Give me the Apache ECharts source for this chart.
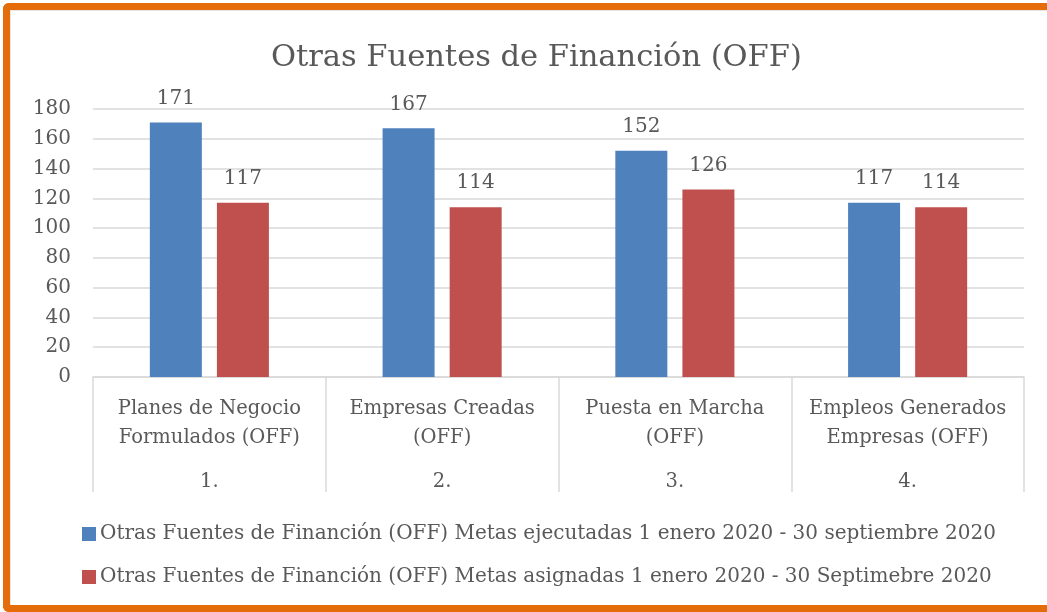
<!DOCTYPE html>
<html>
<head>
<meta charset="utf-8">
<script src="https://cdn.jsdelivr.net/npm/echarts@6/dist/echarts.min.js"></script>
<style>
  html, body { margin: 0; padding: 0; background: #fff; overflow: hidden; }
  #frame {
    position: absolute; left: 3px; top: 3px; width: 1060px; height: 595px;
    border: 7px solid #E46C0A; border-right: none; border-radius: 6px 0 0 6px;
    box-shadow: inset 1px 1px 0 #e6e6e6;
  }
  #chart { position: absolute; left: 0; top: 0; width: 1047px; height: 612px; }
</style>
</head>
<body>
<div id="frame"></div>
<div id="chart"></div>
<script>
(function() {
  var categories = [
    'Planes de Negocio\nFormulados (OFF)',
    'Empresas Creadas\n(OFF)',
    'Puesta en Marcha\n(OFF)',
    'Empleos Generados\nEmpresas (OFF)'
  ];
  var groupLabels = ['1.', '2.', '3.', '4.'];
  var ejecutadas = [171, 167, 152, 117];
  var asignadas = [117, 114, 126, 114];
  var seriesNames = [
    'Otras Fuentes de Financión (OFF) Metas ejecutadas 1 enero 2020 - 30 septiembre 2020',
    'Otras Fuentes de Financión (OFF) Metas asignadas 1 enero 2020 - 30 Septimebre 2020'
  ];

  var font = 'DejaVu Serif';
  var text = '#595959';
  var rule = '#d9d9d9';

  var chart = echarts.init(document.getElementById('chart'), null, { renderer: 'canvas' });

  var option = {
    animation: false,
    backgroundColor: 'transparent',
    title: {
      text: 'Otras Fuentes de Financión (OFF)',
      left: 266,
      top: 38,
      textStyle: { fontFamily: font, fontSize: 30.5, fontWeight: 'normal', color: text }
    },
    legend: {
      orient: 'vertical',
      left: 77,
      top: 519,
      itemWidth: 14,
      itemHeight: 14,
      itemGap: 23,
      icon: 'rect',
      textStyle: { fontFamily: font, fontSize: 20, color: text, padding: [0, 0, 0, -1] },
      data: seriesNames
    },
    grid: { left: 93, right: 23, top: 109, height: 268 },
    xAxis: {
      type: 'category',
      data: categories,
      axisLine: { lineStyle: { color: rule, width: 1.5 } },
      axisTick: { show: true, interval: 0, length: 115, lineStyle: { color: rule, width: 1.5 } },
      axisLabel: {
        interval: 0,
        margin: 17,
        formatter: function(val, i) {
          var lines = val.split('\n');
          return lines.map(function(l) { return '{a|' + l + '}'; }).join('\n') + '\n{b|' + groupLabels[i] + '}';
        },
        rich: {
          a: { fontFamily: font, fontSize: 19.5, color: text, lineHeight: 29 },
          b: { fontFamily: font, fontSize: 19.5, color: text, lineHeight: 60 }
        }
      }
    },
    yAxis: {
      type: 'value',
      min: 0,
      max: 180,
      interval: 20,
      axisLine: { show: false },
      axisTick: { show: false },
      splitLine: { lineStyle: { color: rule, width: 1.5 } },
      axisLabel: { fontFamily: font, fontSize: 20, color: text, margin: 22 }
    },
    series: [
      {
        name: seriesNames[0],
        type: 'bar',
        data: ejecutadas,
        barWidth: 52,
        barGap: '29%',
        itemStyle: { color: '#4F81BD' },
        label: { show: true, position: 'top', distance: 14, fontFamily: font, fontSize: 20, color: text }
      },
      {
        name: seriesNames[1],
        type: 'bar',
        data: asignadas,
        barWidth: 52,
        itemStyle: { color: '#C0504D' },
        label: { show: true, position: 'top', distance: 14, fontFamily: font, fontSize: 20, color: text }
      }
    ]
  };

  chart.setOption(option);
  window.addEventListener('resize', function() { chart.resize(); });
})();
</script>
</body>
</html>
